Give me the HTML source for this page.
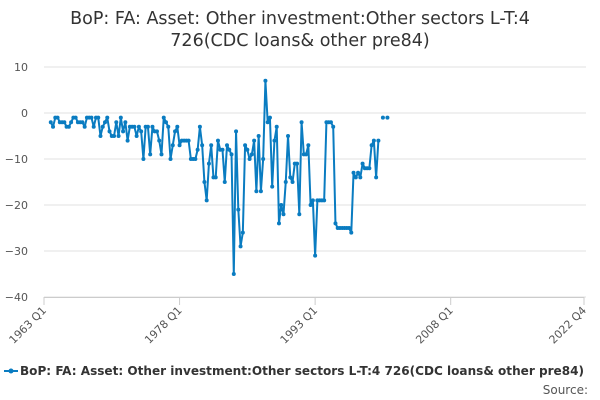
<!DOCTYPE html>
<html><head><meta charset="utf-8"><style>
body{margin:0;background:#fff;font-family:"DejaVu Sans","Liberation Sans",sans-serif;}
svg{display:block}
</style></head><body>
<svg id="chart" width="600" height="400" viewBox="0 0 600 400" font-family="DejaVu Sans, Liberation Sans, sans-serif">
<text x="300" y="24" text-anchor="middle" font-size="17.5" fill="#333">BoP: FA: Asset: Other investment:Other sectors L-T:4</text>
<text x="300" y="46" text-anchor="middle" font-size="17.5" fill="#333">726(CDC loans&amp; other pre84)</text>
<g id="grid"></g><g id="xaxis"></g><g id="series"></g>
<g>
<line x1="4" y1="371" x2="18" y2="371" stroke="#0a7cc1" stroke-width="2"/>
<circle cx="11" cy="371" r="2.5" fill="#0a7cc1"/>
<text x="20" y="375" font-size="12" fill="#333" font-weight="bold" textLength="564" lengthAdjust="spacingAndGlyphs">BoP: FA: Asset: Other investment:Other sectors L-T:4 726(CDC loans&amp; other pre84)</text>
</g>
<text x="588" y="394" text-anchor="end" font-size="12" fill="#555">Source:</text>
</svg>
<script>
const yTicks=[10,0,-10,-20,-30,-40];
const xTickLabels=["1963 Q1","1978 Q1","1993 Q1","2008 Q1","2022 Q4"];
const xTickValues=[1963.0,1978.0,1993.0,2008.0,2022.75];
const startYear=1963.75;
const values=[-2,-3,-1,-1,-2,-2,-2,-3,-3,-2,-1,-1,-2,-2,-2,-3,-1,-1,-1,-3,-1,-1,-5,-3,-2,-1,-4,-5,-5,-2,-5,-1,-4,-2,-6,-3,-3,-3,-5,-3,-4,-10,-3,-3,-9,-3,-4,-4,-6,-9,-1,-2,-3,-10,-7,-4,-3,-7,-6,-6,-6,-6,-10,-10,-10,-8,-3,-7,-15,-19,-11,-7,-14,-14,-6,-8,-8,-15,-7,-8,-9,-35,-4,-21,-29,-26,-7,-8,-10,-9,-6,-17,-5,-17,-10,7,-2,-1,-16,-6,-3,-24,-20,-22,-15,-5,-14,-15,-11,-11,-22,-2,-9,-9,-7,-20,-19,-31,-19,-19,-19,-19,-2,-2,-2,-3,-24,-25,-25,-25,-25,-25,-25,-26,-13,-14,-13,-14,-11,-12,-12,-12,-7,-6,-14,-6,null,-1,null,-1];
const X0=44,X1=584,Y0=67,Y1=297;
const xs=t=>X0+(t-1963)/(2022.75-1963)*(X1-X0);
const ys=v=>Y0+(10-v)/50*(Y1-Y0);
const NS="http://www.w3.org/2000/svg";
const grid=document.getElementById('grid'),xa=document.getElementById('xaxis'),ser=document.getElementById('series');
function mk(tag,attrs,parent){const e=document.createElementNS(NS,tag);for(const k in attrs)e.setAttribute(k,attrs[k]);parent.appendChild(e);return e;}
yTicks.forEach(v=>{
  const l=mk('line',{x1:X0,x2:X1+2,y1:ys(v),y2:ys(v),stroke:'#e0e0e0','stroke-width':1},grid);
  
  
  const t=mk('text',{x:X0-16,y:ys(v)+4,'text-anchor':'end','font-size':11,fill:'#555'},grid);
  
  
  t.textContent=String(v).replace('-','−');
});
const ax=mk('line',{x1:X0,x2:X1,y1:Y1+0.5,y2:Y1+0.5,stroke:'#ccc'},xa);


xTickValues.forEach((tv,i)=>{
  const x=xs(tv);
  const tk=mk('line',{x1:x,x2:x,y1:Y1,y2:Y1+8,stroke:'#ccc'},xa);
  
  
  const t=mk('text',{x:x+3,y:Y1+14,'text-anchor':'end','font-size':11,fill:'#555',transform:`rotate(-45 ${x+3} ${Y1+14})`},xa);
  
  
  t.textContent=xTickLabels[i];
});
let segs=[],cur=[];
values.forEach((v,i)=>{const t=startYear+i*0.25;if(v===null){if(cur.length)segs.push(cur);cur=[];}else cur.push([xs(t),ys(v)]);});
if(cur.length)segs.push(cur);
segs.forEach(s=>{if(s.length>1){const p=mk('polyline',{points:s.map(q=>q.join(',')).join(' '),fill:'none',stroke:'#0a7cc1','stroke-width':2,'stroke-linejoin':'round'},ser);
  
  }});
values.forEach((v,i)=>{if(v===null)return;const c=mk('circle',{cx:xs(startYear+i*0.25),cy:ys(v),r:2,fill:'#0a7cc1'},ser);
  
  });
</script>
</body></html>
